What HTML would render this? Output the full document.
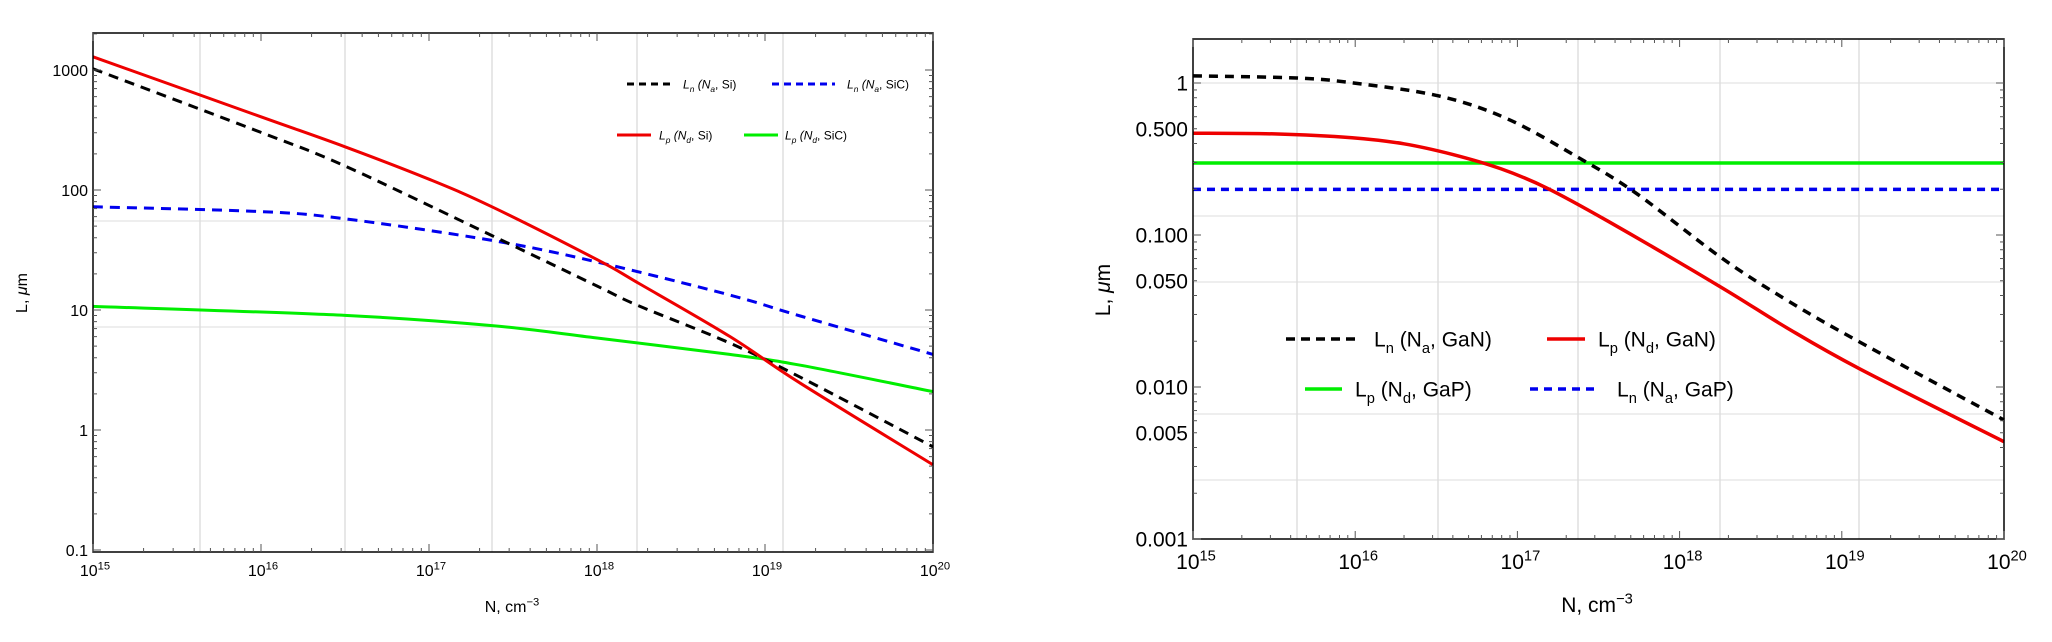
<!DOCTYPE html>
<html><head><meta charset="utf-8"><style>
html,body{margin:0;padding:0;background:#fff;}
svg{display:block;font-family:"Liberation Sans",sans-serif;}
</style></head><body>
<svg id="chart" width="2052" height="642" viewBox="0 0 2052 642" xmlns="http://www.w3.org/2000/svg"></svg>
<script>
// ---- Left chart data (log10 N, log10 L) ----
const leftRedX = [15, 16.0, 16.5, 17.0, 17.375, 18.0, 18.245, 18.79, 19.21, 20];
const leftRedY = [3.11, 2.61, 2.36, 2.09, 1.86, 1.42, 1.225, 0.78, 0.39, -0.29];
const leftBlackX = [15, 16.0, 16.5, 17.375, 18.0, 18.24, 18.79, 19.21, 20];
const leftBlackY = [3.01, 2.48, 2.2, 1.62, 1.2, 1.04, 0.725, 0.44, -0.14];
const leftBlueX = [15, 16, 16.5, 17.375, 18, 18.79, 19.21, 20];
const leftBlueY = [1.86, 1.82, 1.76, 1.58, 1.40, 1.125, 0.95, 0.63];
const leftGreenX = [15, 16.5, 17.375, 18, 18.79, 19.21, 20];
const leftGreenY = [1.03, 0.955, 0.87, 0.767, 0.63, 0.54, 0.32];
const leftYTicks = [-1, 0, 1, 2, 3];
const leftYLabels = ["0.1", "1", "10", "100", "1000"];
// ---- Right chart data ----
const rightBlackX = [15, 15.64, 15.99, 16.52, 16.94, 17.38, 17.73, 18.26, 18.67, 19.11, 20];
const rightBlackY = [0.047, 0.033, 0.0, -0.086, -0.237, -0.493, -0.724, -1.152, -1.434, -1.704, -2.217];
const rightRedX = [15, 15.5, 15.98, 16.3, 16.6, 16.9, 17.18, 17.56, 18.25, 18.66, 19.11, 20];
const rightRedY = [-0.33, -0.335, -0.36, -0.40, -0.47, -0.565, -0.69, -0.91, -1.34, -1.61, -1.88, -2.36];
const rightGreenX = [15, 20];
const rightGreenY = [-0.526, -0.526];
const rightBlueX = [15, 20];
const rightBlueY = [-0.70, -0.70];
const rightYTicks = [0, Math.log10(0.5), -1, Math.log10(0.05), -2, Math.log10(0.005), -3];
const rightYLabels = ["1", "0.500", "0.100", "0.050", "0.010", "0.005", "0.001"];
const xTickExp = [15, 16, 17, 18, 19, 20];

const NS = "http://www.w3.org/2000/svg";
const svg = document.getElementById('chart');
function mk(tag, attrs, parent) {
  const e = document.createElementNS(NS, tag);
  for (const k in attrs) e.setAttribute(k, attrs[k]);
  (parent || svg).appendChild(e);
  return e;
}
function path(pts) {
  let d = "M" + pts[0][0].toFixed(1) + "," + pts[0][1].toFixed(1);
  for (let i = 0; i < pts.length - 1; i++) {
    const p0 = pts[Math.max(0, i - 1)], p1 = pts[i], p2 = pts[i + 1], p3 = pts[Math.min(pts.length - 1, i + 2)];
    const c1 = [p1[0] + (p2[0] - p0[0]) / 6, p1[1] + (p2[1] - p0[1]) / 6];
    const c2 = [p2[0] - (p3[0] - p1[0]) / 6, p2[1] - (p3[1] - p1[1]) / 6];
    d += "C" + c1[0].toFixed(1) + "," + c1[1].toFixed(1) + " " + c2[0].toFixed(1) + "," + c2[1].toFixed(1) + " " + p2[0].toFixed(1) + "," + p2[1].toFixed(1);
  }
  return d;
}
function drawChart(cfg) {
  const g = mk('g', {});
  
  
  const X = v => cfg.x0 + (v - 15) * cfg.dx;
  const Y = v => cfg.y0 - (v - cfg.yRef) * cfg.dy;
  cfg.vgrid.forEach(px => { const l = mk('line', {x1: px, x2: px, y1: cfg.top, y2: cfg.bottom, stroke: '#cfcfcf', 'stroke-width': 1}, g);   });
  cfg.hgrid.forEach(py => { const l = mk('line', {x1: cfg.x0, x2: cfg.right, y1: py, y2: py, stroke: '#dcdcdc', 'stroke-width': 1}, g);   });
  cfg.series.forEach(s => {
    const pts = s.x.map((v, i) => [X(v), Y(s.y[i])]);
    const p = mk('path', {d: path(pts), fill: 'none', stroke: s.color, 'stroke-width': cfg.lw, 'stroke-dasharray': s.dash || 'none'}, g);
    
    
  });
  const fr = mk('rect', {x: cfg.x0, y: cfg.top, width: cfg.right - cfg.x0, height: cfg.bottom - cfg.top, fill: 'none', stroke: '#000', 'stroke-width': 1.5}, g);
  
  
  for (let e = 15; e <= 20; e++) {
    for (let m = 1; m <= 9; m++) {
      const v = e + Math.log10(m);
      if (v > 20.0001) continue;
      const px = X(v), len = m === 1 ? 8 : 4;
      mk('line', {x1: px, x2: px, y1: cfg.bottom, y2: cfg.bottom - len, stroke: '#555', 'stroke-width': 1}, g);
      mk('line', {x1: px, x2: px, y1: cfg.top, y2: cfg.top + len, stroke: '#555', 'stroke-width': 1}, g);
    }
  }
  xTickExp.forEach(e => {
    const t = mk('text', {x: X(e) + cfg.xlOff, y: cfg.bottom + cfg.xlDy, 'font-size': cfg.fs, 'text-anchor': 'middle'}, g);
    
    
    t.textContent = '10';
    const sp = mk('tspan', {dy: -cfg.fs * 0.4, 'font-size': cfg.fs * 0.7}, t);
    sp.textContent = String(e);
  });
  for (let e = cfg.yMinE; e <= cfg.yMaxE; e++) {
    for (let m = 1; m <= 9; m++) {
      const v = e + Math.log10(m);
      const py = Y(v);
      if (py < cfg.top - 0.5 || py > cfg.bottom + 0.5) continue;
      const len = m === 1 ? 8 : 4;
      mk('line', {x1: cfg.x0, x2: cfg.x0 + len, y1: py, y2: py, stroke: '#555', 'stroke-width': 1}, g);
      mk('line', {x1: cfg.right, x2: cfg.right - len, y1: py, y2: py, stroke: '#555', 'stroke-width': 1}, g);
    }
  }
  cfg.yTicks.forEach((v, i) => {
    const t = mk('text', {x: cfg.x0 - 5, y: Y(v) + cfg.fs * 0.36, 'font-size': cfg.fs, 'text-anchor': 'end'}, g);
    
    
    t.textContent = cfg.yLabels[i];
  });
  const xt = mk('text', {x: cfg.xtX, y: cfg.xtY, 'font-size': cfg.tfs, 'text-anchor': 'middle'}, g);
  
  
  xt.textContent = 'N, cm';
  const s2 = mk('tspan', {dy: -cfg.tfs * 0.4, 'font-size': cfg.tfs * 0.7}, xt); s2.textContent = '−3';
  const yt = mk('text', {x: cfg.ytX, y: cfg.ytY, 'font-size': cfg.tfs, 'text-anchor': 'middle', transform: 'rotate(-90 ' + cfg.ytX + ' ' + cfg.ytY + ')'}, g);
  
  
  yt.textContent = 'L, ';
  const mu = mk('tspan', {'font-style': 'italic'}, yt); mu.textContent = 'μ';
  const mm = mk('tspan', {}, yt); mm.textContent = 'm';
  cfg.legend.forEach(L => {
    const lg = mk('g', {}, g);
    
    
    mk('line', {x1: L.x1, x2: L.x2, y1: L.y, y2: L.y, stroke: L.color, 'stroke-width': cfg.lw, 'stroke-dasharray': L.dash || 'none'}, lg);
    const t = mk('text', {x: L.tx, y: L.y + cfg.lfs * 0.36, 'font-size': cfg.lfs, 'font-style': cfg.lit ? 'italic' : 'normal'}, lg);
    const sub = cfg.lfs * 0.3;
    const a = mk('tspan', {}, t); a.textContent = 'L';
    const b = mk('tspan', {dy: sub, 'font-size': cfg.lfs * 0.7}, t); b.textContent = L.s1;
    const c = mk('tspan', {dy: -sub}, t); c.textContent = ' (N';
    const d = mk('tspan', {dy: sub, 'font-size': cfg.lfs * 0.7}, t); d.textContent = L.s2;
    const e = mk('tspan', {dy: -sub, 'font-style': 'normal'}, t); e.textContent = ', ' + L.mat + ')';
  });
}
drawChart({
  name: 'left-chart-si-sic', x0: 93, right: 933, top: 33, bottom: 552, dx: 168, y0: 70, yRef: 3, dy: 120,
  yMinE: -1, yMaxE: 3, yTicks: leftYTicks, yLabels: leftYLabels, fs: 16, xlOff: 2, xlDy: 24, lw: 3,
  vgrid: [200, 345, 492, 637, 783], hgrid: [221, 327],
  xtX: 512, xtY: 612, ytX: 27, ytY: 293, tfs: 16, lfs: 12, lit: true,
  series: [
    {name: 'line-ln-na-sic', x: leftBlueX, y: leftBlueY, color: '#0000ee', dash: '10 7'},
    {name: 'line-lp-nd-sic', x: leftGreenX, y: leftGreenY, color: '#00ee00'},
    {name: 'line-ln-na-si', x: leftBlackX, y: leftBlackY, color: '#000', dash: '10 7'},
    {name: 'line-lp-nd-si', x: leftRedX, y: leftRedY, color: '#ee0000'}
  ],
  legend: [
    {x1: 627, x2: 672, y: 84, tx: 683, color: '#000', dash: '7 5', s1: 'n', s2: 'a', mat: 'Si'},
    {x1: 772, x2: 835, y: 84, tx: 847, color: '#0000ee', dash: '7 5', s1: 'n', s2: 'a', mat: 'SiC'},
    {x1: 617, x2: 651, y: 135, tx: 659, color: '#ee0000', s1: 'p', s2: 'd', mat: 'Si'},
    {x1: 744, x2: 778, y: 135, tx: 785, color: '#00ee00', s1: 'p', s2: 'd', mat: 'SiC'}
  ]
});
drawChart({
  name: 'right-chart-gan-gap', x0: 1193, right: 2004, top: 39, bottom: 539, dx: 162.2, y0: 83, yRef: 0, dy: 152,
  yMinE: -3, yMaxE: 0, yTicks: rightYTicks, yLabels: rightYLabels, fs: 21, xlOff: 3, xlDy: 30, lw: 3.5,
  vgrid: [1297, 1438, 1578, 1720, 1859], hgrid: [83, 216, 282, 414, 480],
  xtX: 1597, xtY: 612, ytX: 1110, ytY: 290, tfs: 21, lfs: 21, lit: false,
  series: [
    {name: 'line-lp-nd-gap', x: rightGreenX, y: rightGreenY, color: '#00ee00'},
    {name: 'line-ln-na-gap', x: rightBlueX, y: rightBlueY, color: '#0000ee', dash: '8 6'},
    {name: 'line-lp-nd-gan', x: rightRedX, y: rightRedY, color: '#ee0000'},
    {name: 'line-ln-na-gan', x: rightBlackX, y: rightBlackY, color: '#000', dash: '9 7'}
  ],
  legend: [
    {x1: 1286, x2: 1356, y: 339, tx: 1374, color: '#000', dash: '9 6', s1: 'n', s2: 'a', mat: 'GaN'},
    {x1: 1547, x2: 1585, y: 339, tx: 1598, color: '#ee0000', s1: 'p', s2: 'd', mat: 'GaN'},
    {x1: 1305, x2: 1342, y: 389, tx: 1355, color: '#00ee00', s1: 'p', s2: 'd', mat: 'GaP'},
    {x1: 1530, x2: 1600, y: 389, tx: 1617, color: '#0000ee', dash: '8 6', s1: 'n', s2: 'a', mat: 'GaP'}
  ]
});
</script>
</body></html>
